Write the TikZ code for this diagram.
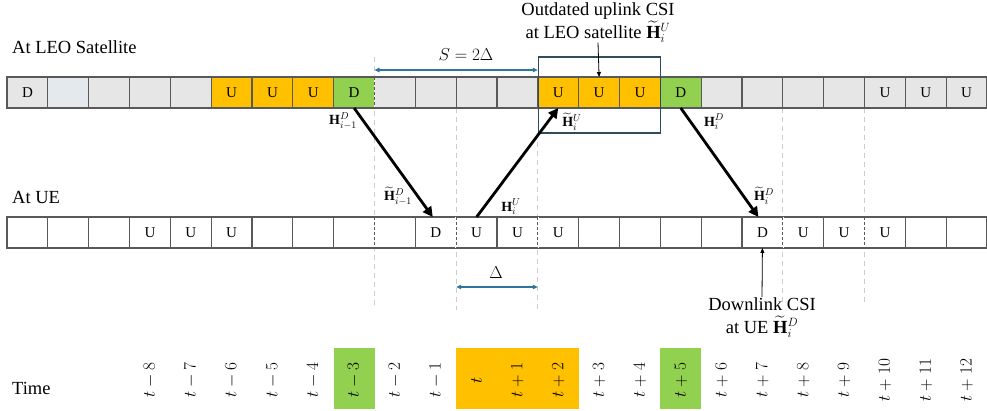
\documentclass[tikz,border=0pt]{standalone}
\usepackage{amsmath}
\usepackage{fontspec}
\setmainfont{Liberation Serif}
\usetikzlibrary{arrows.meta}

\definecolor{cellgray}{RGB}{231,230,230}
\definecolor{cellblue}{RGB}{228,233,238}
\definecolor{slotU}{RGB}{255,192,0}
\definecolor{slotD}{RGB}{146,208,80}
\definecolor{cellline}{RGB}{89,89,89}
\definecolor{dimline}{RGB}{46,117,152}
\definecolor{boxline}{RGB}{50,75,90}
\definecolor{guidegray}{RGB}{205,205,205}

\newcommand{\chH}{\mathbf{H}}
\newcommand{\chHt}{\widetilde{\mathbf{H}}}

\begin{document}
\begin{tikzpicture}[x=1pt,y=-1pt,
  cellbox/.style={draw=cellline, line width=1.1pt, minimum width=40.833pt,
    minimum height=31pt, inner sep=0pt, outer sep=0pt,
    font=\fontsize{15}{15}\selectfont},
  rowlabel/.style={anchor=west, inner sep=0pt, font=\fontsize{18.5}{22}\selectfont},
  note/.style={align=center, inner sep=0pt, font=\fontsize{18.5}{23}\selectfont},
  chlabel/.style={inner sep=0pt, font=\fontsize{14}{14}\selectfont},
  timelabel/.style={rotate=90, inner sep=0pt, font=\fontsize{16}{16}\selectfont},
  guide/.style={draw=guidegray, line width=0.9pt, dash pattern=on 5pt off 4pt},
  link/.style={line width=2.8pt, -{Triangle[length=10pt,width=10pt]}},
  pointer/.style={line width=0.8pt, -{Triangle[length=5pt,width=4pt]}},
  dim/.style={draw=dimline, line width=1.3pt,
    {Triangle[length=5pt,width=4.5pt]}-{Triangle[length=5pt,width=4.5pt]}}
]
\useasboundingbox (0,0) rectangle (987,411);
\def\cw{40.8333}

% vertical timing guides
\draw[guide] (374.5,57) -- (374.5,307);
\draw[guide] (456.2,108) -- (456.2,310);
\draw[guide] (537.8,133) -- (537.8,310);
\draw[guide] (782.8,108) -- (782.8,303);
\draw[guide] (864.5,108) -- (864.5,303);

% frame slots at the satellite
\foreach \i/\lab/\col in {0/D/cellgray,1//cellblue,2//cellgray,3//cellgray,
  4//cellgray,5/U/slotU,6/U/slotU,7/U/slotU,8/D/slotD,9//cellgray,
  10//cellgray,11//cellgray,12//cellgray,13/U/slotU,14/U/slotU,15/U/slotU,
  16/D/slotD,17//cellgray,18//cellgray,19//cellgray,20//cellgray,
  21/U/cellgray,22/U/cellgray,23/U/cellgray}
  \node[cellbox, fill=\col] (sat\i) at ({7+\cw*(\i+0.5)},92.5) {\lab};

% frame slots at the UE
\foreach \i/\lab in {0/,1/,2/,3/U,4/U,5/U,6/,7/,8/,9/,10/D,11/U,12/U,13/U,
  14/,15/,16/,17/,18/D,19/U,20/U,21/U,22/,23/}
  \node[cellbox, fill=white] (ue\i) at ({7+\cw*(\i+0.5)},232.5) {\lab};

% slot borders crossed by the guides
\foreach \k/\yc in {9/92.5,9/232.5,11/232.5,13/232.5,19/232.5,21/232.5}{
  \draw[white, line width=1.4pt] ({7+\cw*\k},\yc-15.5) -- ({7+\cw*\k},\yc+15.5);
  \draw[cellline, line width=1pt, dash pattern=on 3pt off 2pt]
    ({7+\cw*\k},\yc-15.5) -- ({7+\cw*\k},\yc+15.5);
}

% row titles
\node[rowlabel] (satlabel) at (12,47) {At LEO Satellite};
\node[rowlabel] (uelabel) at (12,197) {At UE};
\node[rowlabel] (timetitle) at (12,388) {Time};

% outdated uplink CSI window
\node[draw=boxline, line width=1.1pt, minimum width=122pt, minimum height=76pt,
  inner sep=0pt] (csibox) at (599.5,95) {};
\node[note, anchor=north] (csinote) at (598,2)
  {Outdated uplink CSI\\at LEO satellite $\chHt_i^U$};
\draw[pointer] (csinote.south) -- (sat14.north);

% separations
\coordinate (sL) at (374.5,70);
\coordinate (sR) at (537.8,70);
\draw[dim] (sL) -- (sR);
\node[inner sep=0pt, font=\fontsize{18.5}{18.5}\selectfont] (sgap) at (466,55) {$S=2\Delta$};
\coordinate (dL) at (456.2,287);
\coordinate (dR) at (537.8,287);
\draw[dim] (dL) -- (dR);
\node[inner sep=0pt, font=\fontsize{17}{17}\selectfont] (dgap) at (496,273) {$\Delta$};

% channel links between satellite and UE
\draw[link] (sat8.south) -- ([xshift=-3pt]ue10.north);
\draw[link] (ue11.north) -- (sat13.south);
\draw[link] (sat16.south) -- ([xshift=-4pt]ue18.north);

\node[chlabel] (hd1) at (343,121) {$\chH_{i-1}^D$};
\node[chlabel] (hd1t) at (398,196) {$\chHt_{i-1}^D$};
\node[chlabel] (hu) at (511,207) {$\chH_i^U$};
\node[chlabel] (hut) at (572,122) {$\chHt_i^U$};
\node[chlabel] (hd) at (714,122) {$\chH_i^D$};
\node[chlabel] (hdt) at (764,196) {$\chHt_i^D$};

% downlink CSI at the UE
\node[note, anchor=north] (dlnote) at (762,297) {Downlink CSI\\at UE $\chHt_i^D$};
\draw[pointer] (dlnote.north) -- (ue18.south);

% time axis
\node[fill=slotD, minimum width=40.833pt, minimum height=61pt, inner sep=0pt]
  (hlA) at ({7+\cw*8.5},378.5) {};
\node[fill=slotU, minimum width=122.5pt, minimum height=61pt, inner sep=0pt]
  (hlB) at ({7+\cw*12.5},378.5) {};
\node[fill=slotD, minimum width=40.833pt, minimum height=61pt, inner sep=0pt]
  (hlC) at ({7+\cw*16.5},378.5) {};
\foreach \i in {3,...,23}{
  \pgfmathtruncatemacro\k{\i-11}
  \ifnum\k<0
    \pgfmathtruncatemacro\m{-\k}
    \def\tl{t-\m}
  \else\ifnum\k=0
    \def\tl{t}
  \else
    \def\tl{t+\k}
  \fi\fi
  \node[timelabel] (tm\i) at ({7+\cw*(\i+0.5)},380) {$\tl$};
}
\end{tikzpicture}
\end{document}
